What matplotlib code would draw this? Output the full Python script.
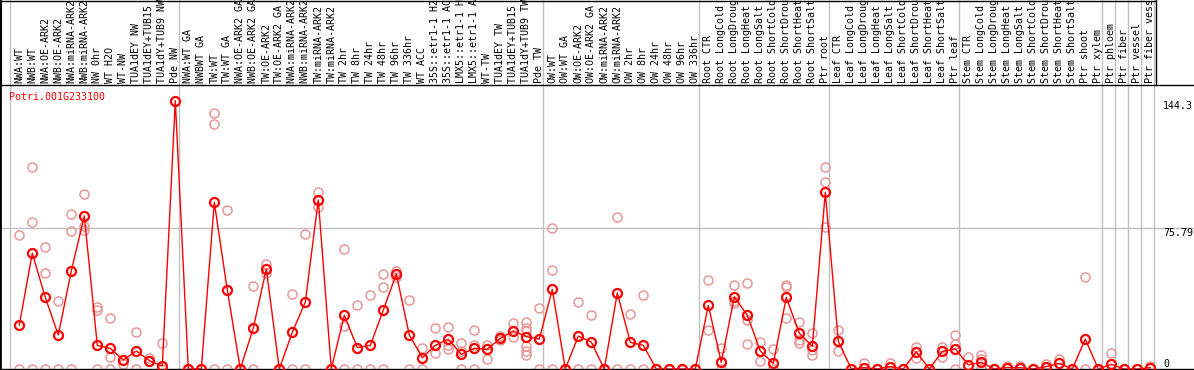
import numpy as np
import matplotlib
matplotlib.use("Agg")
import matplotlib.pyplot as plt
from matplotlib.lines import Line2D

# sample labels, one per column (group order left to right)
labels = [
    "NWA:WT", "NWB:WT", "NWA:OE-ARK2", "NWB:OE-ARK2", "NWA:miRNA-ARK2",
    "NWB:miRNA-ARK2", "NW 0hr", "WT H2O", "WT-NW", "TUA1dEY NW",
    "TUA1dEY+TUB15 NW", "TUA1dY+TUB9 NW", "Pde NW",
    "NWA:WT GA", "NWBWT GA", "TW:WT", "TW:WT GA", "NWA:OE-ARK2 GA",
    "NWB:OE-ARK2 GA", "TW:OE-ARK2", "TW:OE-ARK2 GA", "NWA:miRNA-ARK2 GA",
    "NWB:miRNA-ARK2 GA", "TW:miRNA-ARK2", "TW:miRNA-ARK2", "TW 2hr", "TW 8hr",
    "TW 24hr", "TW 48hr", "TW 96hr", "TW 336hr", "WT ACC", "35S::etr1-1 H2O",
    "35S::etr1-1 ACC", "LMX5::etr1-1 H2O", "LMX5::etr1-1 ACC", "WT-TW",
    "TUA1dEY TW", "TUA1dEY+TUB15 TW", "TUA1dY+TUB9 TW", "Pde TW",
    "OW:WT", "OW:WT GA", "OW:OE-ARK2", "OW:OE-ARK2 GA", "OW:miRNA-ARK2",
    "OW:miRNA-ARK2", "OW 2hr", "OW 8hr", "OW 24hr", "OW 48hr", "OW 96hr",
    "OW 336hr",
    "Root CTR", "Root LongCold", "Root LongDrought", "Root LongHeat",
    "Root LongSalt", "Root ShortCold", "Root ShortDrought", "Root ShortHeat",
    "Root ShortSalt", "Ptr root",
    "Leaf CTR", "Leaf LongCold", "Leaf LongDrought", "Leaf LongHeat",
    "Leaf LongSalt", "Leaf ShortCold", "Leaf ShortDrought", "Leaf ShortHeat",
    "Leaf ShortSalt", "Ptr leaf",
    "Stem CTR", "Stem LongCold", "Stem LongDrought", "Stem LongHeat",
    "Stem LongSalt", "Stem ShortCold", "Stem ShortDrought", "Stem ShortHeat",
    "Stem ShortSalt", "Ptr shoot", "Ptr xylem",
    "Ptr phloem", "Ptr fiber", "Ptr vessel", "Ptr fiber vessel",
]

# number of columns in each separated group
group_sizes = [13, 28, 12, 10, 10, 11, 1, 1, 1, 1]

# mean expression per column
means = [
    23.7, 62.2, 38.5, 18.3, 52.7, 82.3, 12.7, 11.1, 4.8, 9.7, 4.5, 1.6, 144.3,
    0, 0, 89.6, 42.5, 0, 22.0, 53.8, 0, 19.7, 36.0, 90.9, 0, 28.9, 11.5, 12.7,
    31.7, 51.1, 18.3, 6.1, 12.7, 16.0, 7.9, 11.1, 10.6, 16.5, 20.4, 17.4, 16.1,
    42.8, 0, 17.7, 14.5, 0, 40.9, 14.3, 12.7, 0, 0, 0, 0,
    34.2, 3.6, 38.7, 28.9, 9.7, 3.0, 38.5, 19.2, 12.2, 95.0,
    14.9, 0, 0.7, 0, 1.3, 0, 9.3, 0, 9.5, 10.8,
    2.2, 3.6, 0, 0.8, 0.7, 0, 1.3, 3.0, 0, 16.1, 0,
    2.5, 0, 0, 0.7,
]

# individual replicates per column
replicates = [
    [72.0, 0], [108.5, 78.9, 0], [65.6, 51.6, 0], [36.6, 0], [83.3, 74.2, 0],
    [93.9, 76.9, 74.7], [33.2, 31.7, 0], [27.4, 6.5, 0], [4.8, 2.7], [19.9, 0],
    [6.1, 4.5], [13.8, 0], [],
    [0], [0], [137.5, 131.6, 0], [85.5, 0], [0], [44.4, 0], [56.5, 51.4], [0],
    [40.3, 0], [72.6, 0], [95.0, 86.9], [0], [64.5, 23.1, 0], [34.4, 0],
    [39.8, 0], [51.1, 44.1, 0], [52.7, 49.6], [37.1, 0], [11.1, 0], [22.0, 8.4],
    [22.6, 12.7, 11.0], [14.2, 9.7, 0], [21.0, 12.7, 0], [12.7, 5.2],
    [17.9, 15.6], [24.7, 17.0], [25.4, 21.9, 20.2, 12.5, 9.7, 7.3], [32.6, 0],
    [75.6, 53.0, 0], [0], [36.0, 0], [28.9, 0], [0], [81.7, 0], [29.6, 0],
    [39.8, 0], [0], [0], [0], [0],
    [47.7, 21.0], [11.5, 0], [45.2, 36.7, 35.3], [46.1, 26.3, 13.3],
    [14.5, 4.3], [10.8, 0], [45.2, 44.0, 27.2], [25.3, 15.6, 14.0],
    [19.5, 10.2, 7.5], [108.4, 100.4, 76.5],
    [21.0, 9.7], [0], [3.0], [0], [3.4], [0], [12.0, 6.1], [0], [12.0, 6.6],
    [18.3, 13.4, 0],
    [6.3], [7.4, 5.2, 0], [0], [1.6], [1.4], [0], [2.5], [5.2], [0], [49.3, 0],
    [0],
    [8.6], [0], [0], [1.5],
]

gene = "Potri.001G233100"
ytick_vals = [144.3, 75.79, 0]

W, H = 1194, 370
fig = plt.figure(figsize=(W / 100, H / 100), dpi=100)
ax = fig.add_axes([0, 1 / H, 1, 284 / H])

x = np.arange(len(labels))
ax.set_xlim(-19.3 / 13, (W - 19.3) / 13)
ax.set_ylim(0, 284 / 1.86)
ax.set_xticks([])
ax.set_yticks([])
ax.spines["right"].set_visible(False)
ax.spines["left"].set_linewidth(2)
ax.spines["top"].set_linewidth(1)
ax.spines["bottom"].set_linewidth(1)

grey = "#c0c0c0"
ax.axhline(ytick_vals[1], color=grey, lw=1, zorder=0)

# group separators, extended up through the label strip
ends = np.concatenate([[-1], np.cumsum(group_sizes) - 1])
top_ext = 369 / 284
for e in ends:
    ax.axvline(e + 0.3, 0, top_ext, color=grey, lw=1, clip_on=False, zorder=0)

# frame of label strip
fig.add_artist(Line2D([0, 1155 / W], [1 - 0.5 / H, 1 - 0.5 / H], color="black", lw=1))
fig.add_artist(Line2D([1155.5 / W, 1155.5 / W], [1 - 85 / H, 1], color="black", lw=1))
fig.add_artist(Line2D([0.5 / W, 0.5 / W], [1 - 86 / H, 1], color="black", lw=1.5))

# replicates
rx = [i for i, r in enumerate(replicates) for _ in r]
ry = [v for r in replicates for v in r]
ax.plot(rx, ry, "o", ms=6.5, mfc="none", mec="#e89898", mew=1.1,
        clip_on=False, zorder=2)

# mean line
ax.plot(x, means, "-", color="red", lw=1.0, zorder=3)
ax.plot(x, means, "o", ms=6.5, mfc="none", mec="red", mew=1.6,
        clip_on=False, zorder=4)

mono = "DejaVu Sans Mono"
trans = ax.get_xaxis_transform()
for i, lab in enumerate(labels):
    ax.text(i, 1 + 2 / 284, lab, rotation=90, ha="center", va="bottom",
            family=mono, fontsize=7.2, transform=trans, clip_on=False)

ax.text(9 / W, 1 - 7 / 284, gene, color="red", family=mono, fontsize=7.2,
        ha="left", va="top", transform=ax.transAxes)

ytr = ax.get_yaxis_transform()
ax.text(1163 / W, ytick_vals[0], "144.3", family=mono, fontsize=7.2,
        ha="left", va="top", transform=ytr)
ax.text(1163 / W, ytick_vals[1], "75.79", family=mono, fontsize=7.2,
        ha="left", va="top", transform=ytr)
ax.text(1163 / W, ytick_vals[2], "0", family=mono, fontsize=7.2,
        ha="left", va="bottom", transform=ytr)

fig.savefig("out.png", dpi=100)
